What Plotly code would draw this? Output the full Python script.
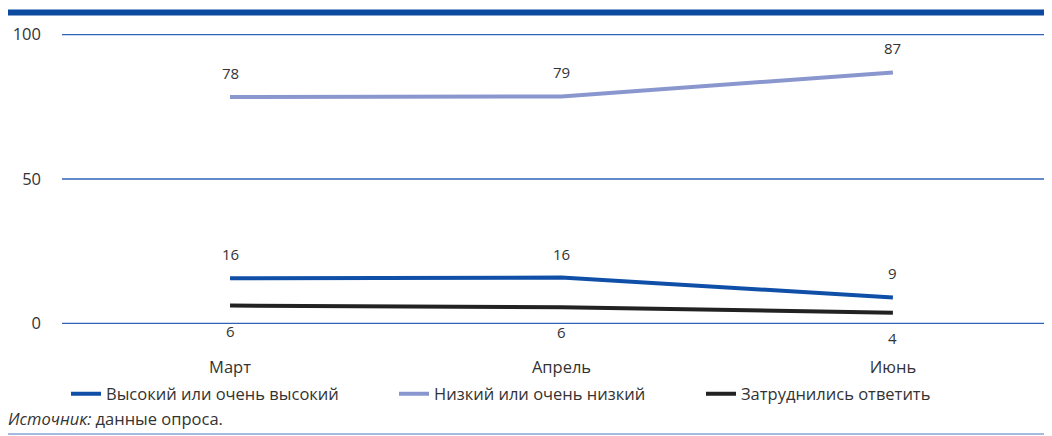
import plotly.graph_objects as go

months = ["Март", "Апрель", "Июнь"]
high = [15.6, 15.9, 9.0]
low = [78.4, 78.6, 86.9]
hard = [6.2, 5.6, 3.7]
high_labels = ["16", "16", "9"]
low_labels = ["78", "79", "87"]
hard_labels = ["6", "6", "4"]
names = ["Высокий или очень высокий", "Низкий или очень низкий", "Затруднились ответить"]
y_ticks = [0, 50, 100]
source_text = "<i>Источник:</i> данные опроса."

# the page body adds an 8px offset, so work in reference pixels minus 8
OFF = 8
W, H = 1052 - OFF, 436 - OFF
L, R, T, B = 62 - OFF, 0, 34 - OFF, 436 - 324
pw, ph = W - L - R, H - T - B

def px_x(p):
    return (p - OFF - L) / pw

def px_y(p):
    return (H - B - (p - OFF)) / ph

FONT = "Open Sans"
TXT = "#333333"
colors = ["#0f4fa8", "#8a97cf", "#222222"]

fig = go.Figure()

for yt in y_ticks:
    fig.add_shape(type="line", xref="paper", yref="y", x0=0, x1=1, y0=yt, y1=yt,
                  line=dict(color="#2f63b6", width=1.3), layer="below")

series = [(high, high_labels, 24), (low, low_labels, 24), (hard, hard_labels, -25)]
legends = ["legend", "legend2", "legend3"]
for i, (vals, labs, shift) in enumerate(series):
    fig.add_trace(go.Scatter(x=months, y=vals, mode="lines", name=names[i],
                             line=dict(color=colors[i], width=4),
                             legend=legends[i], hoverinfo="skip"))
    for m, v, t in zip(months, vals, labs):
        fig.add_annotation(x=m, y=v, text=t, showarrow=False, yshift=shift,
                           font=dict(family=FONT, size=15, color=TXT))

leg_common = dict(orientation="h", yanchor="middle", y=px_y(394), xanchor="left",
                  font=dict(family=FONT, size=16.5, color=TXT), bgcolor="rgba(0,0,0,0)",
                  itemwidth=30)
fig.update_layout(
    width=W, height=H,
    margin=dict(l=L, r=R, t=T, b=B),
    paper_bgcolor="white", plot_bgcolor="white",
    showlegend=True,
    legend=dict(x=px_x(66), **leg_common),
    legend2=dict(x=px_x(394), **leg_common),
    legend3=dict(x=px_x(701), **leg_common),
    xaxis=dict(range=[-0.507, 2.48], showgrid=False, zeroline=False, showline=False,
               ticks="", ticklabelstandoff=31,
               tickfont=dict(family=FONT, size=16.5, color=TXT)),
    yaxis=dict(range=[-0.2, 100.2], tickvals=y_ticks, showgrid=False,
               zeroline=False, showline=False, ticks="",
               ticklabelstandoff=20, tickfont=dict(family=FONT, size=16.5, color=TXT)),
)

fig.add_shape(type="rect", xref="paper", yref="paper", x0=px_x(8), x1=1,
              y0=px_y(15.5), y1=px_y(9.5), fillcolor="#0b4a9f", line_width=0)
fig.add_shape(type="line", xref="paper", yref="paper", x0=px_x(8), x1=1,
              y0=px_y(434), y1=px_y(434), line=dict(color="#4a76c0", width=1))
fig.add_annotation(xref="paper", yref="paper", x=px_x(6), y=px_y(418), xanchor="left",
                   yanchor="middle", text=source_text, showarrow=False,
                   font=dict(family=FONT, size=16.5, color=TXT))

fig.write_html("out.html")
